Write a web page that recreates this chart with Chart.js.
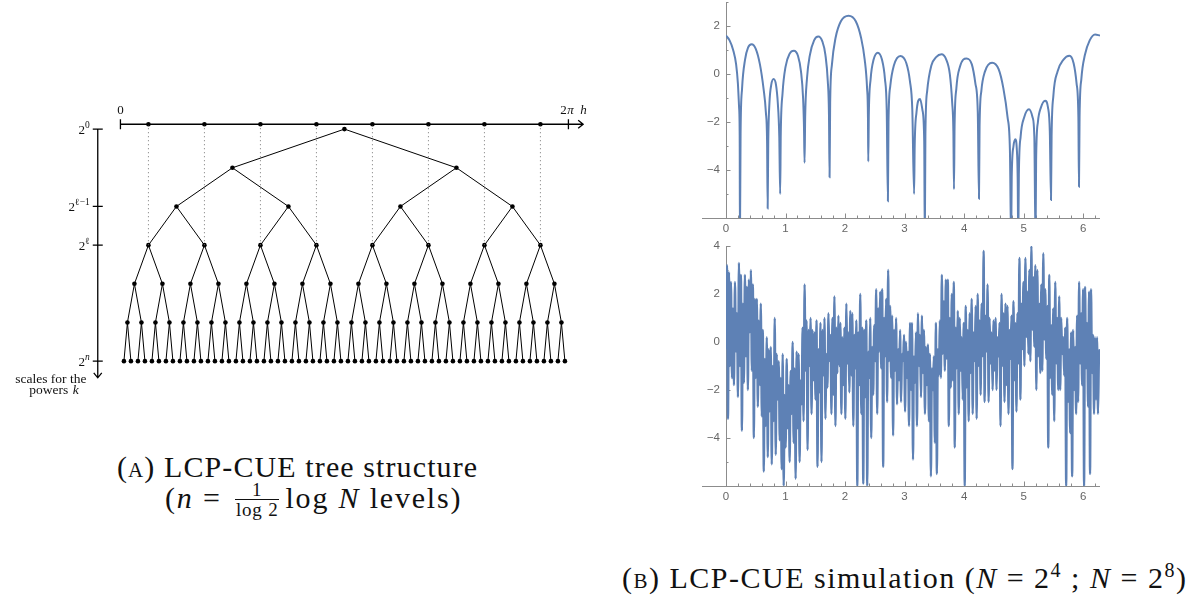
<!DOCTYPE html>
<html>
<head>
<meta charset="utf-8">
<script src="https://cdn.jsdelivr.net/npm/chart.js@4.4.1/dist/chart.umd.min.js"></script>
<style>
  body { margin: 0; background: #fff; width: 1198px; height: 597px; position: relative; overflow: hidden; }
  canvas { position: absolute; }
  .cap { position: absolute; font-family: "Times New Roman", Tinos, serif; font-size: 30px; letter-spacing: 1.1px; color: #111; white-space: nowrap; line-height: 1; }
  .sc { font-variant: small-caps; }
  .frac { display: inline-block; vertical-align: middle; text-align: center; font-size: 19px; line-height: 1; margin: 0 6px 0 4px; position: relative; top: -2px; letter-spacing: 0.8px; }
  .frac span { display: block; padding: 0 1px; }
  .frac span:first-child { border-bottom: 1px solid #111; }
  sup { font-size: 20px; line-height: 0; }
</style>
</head>
<body>
<canvas id="tree" width="600" height="320" style="left:0;top:90px"></canvas>
<canvas id="top" width="430" height="240" style="left:680px;top:0"></canvas>
<canvas id="bottom" width="430" height="270" style="left:680px;top:240px"></canvas>

<div class="cap" style="left:117px;top:452px">(<span class="sc">a</span>) LCP-CUE tree structure</div>
<div class="cap" style="left:165px;top:482px;letter-spacing:1.8px">(<i>n</i> = <span class="frac"><span>1</span><span>log 2</span></span>log <i>N</i> levels)</div>
<div class="cap" style="left:622px;top:563px;letter-spacing:1.5px">(<span class="sc">b</span>) LCP-CUE simulation (<i>N</i> = 2<sup>4</sup> ; <i>N</i> = 2<sup>8</sup>)</div>

<script>
// ---- tree (panel A) ----
const treeDepth = 6;                 // levels 0..6, 64 leaves
const dottedLevel = 3;               // dotted guides drop to this level
const levelTicks = [0, 2, 3, 6];
const levelTickLabels = [['2', '0'], ['2', 'ℓ−1'], ['2', 'ℓ'], ['2', 'n']];
const TWO_PI = 2 * Math.PI;

// ---- N = 2^4 simulation (top right) ----
const topX = [0, 0.06, 0.12, 0.17, 0.20, 0.22, 0.23, 0.234,
  0.245, 0.27, 0.32, 0.37, 0.43, 0.50, 0.57, 0.63, 0.67, 0.69, 0.70,
  0.71, 0.73, 0.76, 0.80, 0.84, 0.87, 0.895, 0.91,
  0.92, 0.95, 1.0, 1.07, 1.14, 1.21, 1.26, 1.295, 1.31, 1.32,
  1.33, 1.36, 1.41, 1.48, 1.55, 1.62, 1.67, 1.71, 1.73, 1.74,
  1.75, 1.78, 1.84, 1.93, 2.06, 2.18, 2.27, 2.33, 2.37, 2.385, 2.39,
  2.40, 2.43, 2.48, 2.55, 2.62, 2.67, 2.70, 2.72,
  2.73, 2.76, 2.82, 2.93, 3.03, 3.09, 3.13, 3.16,
  3.17, 3.20, 3.26, 3.30, 3.33, 3.34,
  3.35, 3.38, 3.45, 3.53, 3.62, 3.70, 3.76, 3.80, 3.82, 3.83,
  3.84, 3.87, 3.93, 4.04, 4.13, 4.19, 4.23, 4.25,
  4.26, 4.29, 4.35, 4.47, 4.58, 4.66, 4.73, 4.77, 4.79,
  4.80, 4.83, 4.86, 4.885, 4.90, 4.91,
  4.92, 4.95, 5.01, 5.09, 5.15, 5.18, 5.20,
  5.21, 5.24, 5.29, 5.36, 5.41, 5.44, 5.46,
  5.47, 5.50, 5.57, 5.67, 5.77, 5.84, 5.89, 5.92, 5.93,
  5.94, 5.97, 6.03, 6.11, 6.20, 6.283];
const topY = [1.6, 1.4, 1.0, 0.4, -0.4, -1.4, -2.6, -7,
  -2.5, -0.6, 0.6, 1.1, 1.24, 1.05, 0.4, -0.6, -1.6, -2.8, -5.6,
  -2.8, -1.2, -0.45, -0.21, -0.45, -1.2, -2.6, -5.0,
  -2.5, -0.8, 0.3, 0.85, 0.97, 0.75, 0.1, -1.0, -2.2, -3.7,
  -1.8, -0.2, 0.8, 1.4, 1.56, 1.35, 0.8, -0.3, -1.7, -4.3,
  -1.2, 0.4, 1.5, 2.2, 2.43, 2.2, 1.5, 0.6, -0.6, -1.8, -3.65,
  -1.6, -0.2, 0.6, 0.89, 0.6, -0.2, -1.5, -5.3,
  -2.0, -0.5, 0.35, 0.75, 0.45, -0.3, -1.5, -5.0,
  -3.0, -1.6, -1.04, -1.5, -2.8, -7,
  -2.5, -0.7, 0.35, 0.7, 0.82, 0.6, 0.0, -1.2, -2.4, -4.8,
  -2.2, -0.6, 0.3, 0.65, 0.4, -0.4, -1.6, -5.2,
  -2.2, -0.7, 0.1, 0.47, 0.2, -0.6, -1.8, -3.2, -7,
  -4.3, -3.0, -2.72, -3.1, -4.3, -7,
  -4.2, -2.6, -1.8, -1.47, -1.8, -2.6, -7,
  -3.6, -2.0, -1.4, -1.11, -1.4, -2.4, -5.25,
  -2.6, -0.9, 0.1, 0.6, 0.76, 0.45, -0.4, -1.8, -4.7,
  -1.8, -0.2, 0.8, 1.4, 1.65, 1.6];
const topYTicks = [-4, -2, 0, 2];

// ---- N = 2^8 simulation (bottom right), evenly spaced over [0, 2pi] ----
const bottomY = [
  -0.3, 3.2, -3.2, 2.9, -1.0, 2.5,
  -1.5, 1.4, -1.8, 2.5, -0.4, 1.2,
  -2.3, 3.3, -1.0, 2.8, -3.7, 1.6,
  -1.7, 2.8, -0.6, 2.3, -2.0, 2.6,
  0.4, 3.0, -1.2, 2.4, -4.0, 1.8,
  -1.5, 1.8, -2.7, 0.9, -1.8, 1.6,
  -3.1, 0.5, -5.4, -0.7, -3.5, 0.2,
  -4.8, -0.3, -2.9, -0.2, -5.1, -1.0,
  -3.3, 1.0, -4.7, -0.5, -2.4, -0.8,
  -4.1, -1.5, -5.3, -0.5, -6.0, -2.2,
  -4.4, -0.7, -3.6, -1.8, -5.0, -1.2,
  -3.0, 0.0, -4.2, -1.1, -5.7, -0.4,
  -3.6, -0.5, -5.0, -1.6, -2.6, 0.6,
  -3.3, 2.4, -1.2, 0.9, -4.5, 0.5,
  -1.0, 1.0, -3.0, 0.5, -1.6, 0.4,
  -2.4, 0.9, -5.2, -0.3, -2.1, 0.8,
  -5.0, 0.5, -1.4, 1.0, -3.2, -0.5,
  -1.9, 1.2, -0.8, 0.3, -3.0, 1.0,
  -2.2, 1.9, -3.5, 0.6, -1.3, 1.1,
  -1.0, 0.8, -3.0, 0.2, -1.8, 0.6,
  -3.2, 1.6, -0.9, 0.4, -2.1, 1.3,
  -1.4, 1.2, -3.5, 0.3, -1.1, 0.9,
  -6.0, 0.4, -1.8, 2.0, -3.0, 0.6,
  -5.9, 0.5, -2.3, 0.9, -6.0, -0.4,
  -1.5, 1.0, -4.0, -0.2, -2.2, 0.7,
  -0.8, 2.2, -3.0, 1.4, -0.4, 2.1,
  -1.1, 2.2, -5.2, 1.0, -0.6, 1.8,
  -2.5, 3.0, -0.8, 1.5, -1.5, 1.1,
  -3.9, 0.5, -1.2, 1.0, -2.6, -0.3,
  -1.6, 0.5, -2.5, -0.5, -0.8, 0.3,
  -2.9, 0.0, -1.5, -0.4, -3.5, 0.8,
  -2.0, 0.8, -4.9, -0.6, -1.7, 0.4,
  -3.5, 1.2, -1.0, 0.3, -2.3, 1.1,
  -1.3, 0.5, -3.0, -0.2, -1.8, -0.1,
  -3.3, -0.5, -5.6, -1.1, -2.0, -0.6,
  -4.2, 0.8, -5.5, -0.3, -1.4, 0.9,
  -1.5, 2.8, -0.5, 1.7, -1.2, 2.6,
  -0.7, 2.6, -3.5, 1.0, -1.9, 2.0,
  -1.6, 2.5, -4.4, 0.6, -1.1, 1.3,
  -3.0, 1.0, -1.2, 0.2, -2.4, 0.8,
  -6.0, 1.5, -1.9, 0.5, -3.3, 1.2,
  -1.3, 1.8, -3.0, 0.4, -0.8, 1.5,
  -3.2, 2.0, -1.0, 0.9, -2.2, 1.6,
  -0.6, 3.8, -2.5, 1.1, -0.4, 2.4,
  -2.5, 1.0, -0.9, 0.4, -2.0, 0.9,
  -1.2, 1.0, -2.0, 0.2, -0.6, 0.8,
  -3.5, 2.0, -1.0, 1.2, -2.5, 1.6,
  -1.8, 1.5, -3.0, 0.5, -0.7, 1.1,
  -5.3, 1.7, -1.6, 0.8, -2.9, 1.2,
  -0.9, 3.5, -2.4, 1.6, -0.3, 2.5,
  -1.0, 3.5, 0.2, 2.1, -0.5, 3.0,
  -0.8, 4.0, 0.5, 2.7, -0.2, 3.2,
  -2.0, 3.0, -0.6, 1.6, -1.3, 2.4,
  -1.2, 3.7, 0.1, 2.2, -0.7, 1.5,
  -4.4, 2.8, -1.5, 0.7, -2.2, 1.4,
  -3.3, 2.5, -0.9, 1.0, -2.0, 1.9,
  -2.0, 1.0, -0.5, 0.2, -1.4, 0.6,
  -6.0, 1.0, -2.5, -0.3, -3.8, 0.4,
  -5.6, 0.5, -2.0, -0.2, -3.0, 1.1,
  -2.5, 2.5, -0.9, 1.2, -1.8, 2.2,
  -6.0, 2.3, -1.1, 0.8, -2.7, 2.1,
  -5.5, 2.2, -1.3, 0.3, -3.0, 0.2,
  -2.4, 0.2, -3.0, -0.6, -0.3
];
const bottomYTicks = [-4, -2, 0, 2, 4];
const xTicks = [0, 1, 2, 3, 4, 5, 6];

const BLUE = '#5e81b5';
const SERIF = '"Times New Roman", Tinos, serif';

// ---------------------------------------------------------------
// Tree geometry from its structure: node j of level L sits in the
// middle of its 2pi / 2^L slot
// ---------------------------------------------------------------
function nodeX(level, j) {
    return (j + 0.5) * TWO_PI / Math.pow(2, level);
}

const nodes = [];
const edges = [];
for (let L = 0; L <= treeDepth; L++) {
    const count = Math.pow(2, L);
    for (let j = 0; j < count; j++) {
        nodes.push({ x: nodeX(L, j), y: L });
        if (L < treeDepth) {
            edges.push({ x: nodeX(L + 1, 2 * j), y: L + 1 });
            edges.push({ x: nodeX(L, j), y: L });
            edges.push({ x: nodeX(L + 1, 2 * j + 1), y: L + 1 });
            edges.push({ x: NaN, y: null });
        }
    }
}

const axisLevel = -0.126;      // the horizontal 0..2pi axis above the root
const leftAxisX = -0.318;      // the vertical "scales" axis
const axisEndX = 6.49;
const axisEndLevel = 6.43;

const guides = [];
const axisDots = [];
for (let j = 0; j < Math.pow(2, dottedLevel); j++) {
    guides.push({ x: nodeX(dottedLevel, j), y: axisLevel });
    guides.push({ x: nodeX(dottedLevel, j), y: dottedLevel });
    guides.push({ x: NaN, y: null });
    axisDots.push({ x: nodeX(dottedLevel, j), y: axisLevel });
}

function drawPow(ctx, base, exp, xRight, y) {
    const italicExp = /[a-z]/.test(exp);
    ctx.font = '13px ' + SERIF;
    const bw = ctx.measureText(base).width;
    ctx.font = (italicExp ? 'italic ' : '') + '9.5px ' + SERIF;
    const ew = ctx.measureText(exp).width;
    ctx.textAlign = 'left';
    ctx.textBaseline = 'middle';
    ctx.font = '13px ' + SERIF;
    ctx.fillText(base, xRight - ew - bw, y + 1);
    ctx.font = (italicExp ? 'italic ' : '') + '9.5px ' + SERIF;
    ctx.fillText(exp, xRight - ew, y - 4);
}

const treeAxes = {
    id: 'treeAxes',
    afterDatasetsDraw(chart) {
        const { ctx, scales: { x, y } } = chart;
        ctx.save();
        ctx.strokeStyle = '#000';
        ctx.fillStyle = '#111';
        ctx.lineWidth = 1.3;

        // horizontal axis 0 .. 2pi with arrow
        const ay = y.getPixelForValue(axisLevel);
        const x0 = x.getPixelForValue(0);
        const x2 = x.getPixelForValue(TWO_PI);
        const xe = x.getPixelForValue(axisEndX);
        ctx.beginPath();
        ctx.moveTo(x0, ay); ctx.lineTo(xe, ay);
        ctx.moveTo(x0, ay - 5); ctx.lineTo(x0, ay + 5);
        ctx.moveTo(x2, ay - 5); ctx.lineTo(x2, ay + 5);
        ctx.moveTo(xe - 5, ay - 4); ctx.lineTo(xe, ay); ctx.lineTo(xe - 5, ay + 4);
        ctx.stroke();

        // vertical scale axis with arrow
        const lx = x.getPixelForValue(leftAxisX);
        const ly0 = y.getPixelForValue(0);
        const lye = y.getPixelForValue(axisEndLevel);
        ctx.beginPath();
        ctx.moveTo(lx, ly0); ctx.lineTo(lx, lye);
        ctx.moveTo(lx - 4, lye - 5); ctx.lineTo(lx, lye); ctx.lineTo(lx + 4, lye - 5);
        levelTicks.forEach(L => {
            const py = y.getPixelForValue(L);
            ctx.moveTo(lx - 5, py); ctx.lineTo(lx + 5, py);
        });
        ctx.stroke();

        // labels
        ctx.textBaseline = 'middle';
        ctx.textAlign = 'center';
        ctx.font = '13px ' + SERIF;
        ctx.fillText('0', x0, ay - 14);
        ctx.fillText('2', x2 - 5, ay - 14);
        ctx.font = 'italic 13px ' + SERIF;
        ctx.fillText('π', x2 + 2, ay - 14);
        ctx.fillText('h', x2 + 15, ay - 14);

        levelTicks.forEach((L, i) => {
            drawPow(ctx, levelTickLabels[i][0], levelTickLabels[i][1], lx - 8, y.getPixelForValue(L));
        });

        ctx.textAlign = 'center';
        ctx.font = '13.5px ' + SERIF;
        ctx.fillText('scales for the', lx - 47, lye + 2);
        ctx.fillText('powers', lx - 49, lye + 13);
        ctx.font = 'italic 13.5px ' + SERIF;
        ctx.fillText('k', lx - 22, lye + 13);
        ctx.restore();
    }
};

new Chart(document.getElementById('tree'), {
    type: 'scatter',
    data: {
        datasets: [
            { type: 'line', data: guides, borderColor: '#777', borderWidth: 1, borderDash: [1, 3], pointRadius: 0, spanGaps: false },
            { type: 'line', data: edges, borderColor: '#000', borderWidth: 1, pointRadius: 0, spanGaps: false },
            { data: nodes, backgroundColor: '#000', borderWidth: 0, pointRadius: 2.3 },
            { data: axisDots, backgroundColor: '#000', borderWidth: 0, pointRadius: 2.3 }
        ]
    },
    options: {
        responsive: false,
        animation: false,
        events: [],
        layout: { padding: 0 },
        plugins: { legend: { display: false }, tooltip: { enabled: false } },
        scales: {
            x: { type: 'linear', display: false, min: -1.633, max: 6.670 },
            y: { type: 'linear', display: false, min: -0.9076, max: 7.159, reverse: true }
        }
    },
    plugins: [treeAxes]
});

// ---------------------------------------------------------------
// Mathematica-like axes for the two simulations
// ---------------------------------------------------------------
const mmaAxes = {
    id: 'mmaAxes',
    beforeDatasetsDraw(chart, args, opts) {
        const { ctx, scales: { x, y } } = chart;
        const xb = x.getPixelForValue(0);
        const yb = y.getPixelForValue(y.min);
        const right = x.getPixelForValue(x.max);
        const top = y.getPixelForValue(y.max);
        ctx.save();
        ctx.strokeStyle = '#8c8c8c';
        ctx.lineWidth = 1;
        ctx.beginPath();
        ctx.moveTo(xb - 24, yb + 0.5); ctx.lineTo(right, yb + 0.5);
        ctx.moveTo(xb + 0.5, yb); ctx.lineTo(xb + 0.5, top);
        for (let k = 0; k * 0.2 <= x.max + 1e-9; k++) {
            const px = Math.round(x.getPixelForValue(k * 0.2)) + 0.5;
            const len = k % 5 === 0 ? 4.5 : 2.5;
            ctx.moveTo(px, yb); ctx.lineTo(px, yb - len);
        }
        for (let v = Math.ceil(y.min); v <= y.max; v++) {
            const py = Math.round(y.getPixelForValue(v)) + 0.5;
            const len = v % 2 === 0 ? 4.5 : 2.5;
            ctx.moveTo(xb, py); ctx.lineTo(xb + len, py);
        }
        ctx.stroke();

        ctx.fillStyle = '#666';
        ctx.font = '11.5px "Liberation Sans", Arial, sans-serif';
        ctx.textAlign = 'center';
        ctx.textBaseline = 'middle';
        xTicks.forEach(v => ctx.fillText(String(v), x.getPixelForValue(v), yb + 11));
        ctx.textAlign = 'right';
        opts.yTicks.forEach(v => {
            ctx.fillText(String(v).replace('-', '−'), xb - 6, y.getPixelForValue(v));
        });
        ctx.restore();
    }
};

function simChart(id, points, yMin, yMax, yTicks, padding, width) {
    return new Chart(document.getElementById(id), {
        type: 'line',
        data: {
            datasets: [{
                data: points,
                borderColor: BLUE,
                borderWidth: width,
                pointRadius: 0,
                cubicInterpolationMode: 'monotone',
                clip: 0
            }]
        },
        options: {
            responsive: false,
            animation: false,
            events: [],
            layout: { padding: padding },
            plugins: { legend: { display: false }, tooltip: { enabled: false }, mmaAxes: { yTicks: yTicks } },
            scales: {
                x: { type: 'linear', display: false, min: 0, max: TWO_PI },
                y: { type: 'linear', display: false, min: yMin, max: yMax }
            }
        },
        plugins: [mmaAxes]
    });
}

const topPoints = topX.map((v, i) => ({ x: v, y: topY[i] }));
const bottomPoints = bottomY.map((v, i) => ({ x: i * TWO_PI / (bottomY.length - 1), y: v }));

simChart('top', topPoints, -6, 3, topYTicks, { left: 46, right: 10, top: 2, bottom: 22 }, 2);
simChart('bottom', bottomPoints, -6, 4, bottomYTicks, { left: 46, right: 10, top: 6, bottom: 24 }, 2.3);
</script>
</body>
</html>
